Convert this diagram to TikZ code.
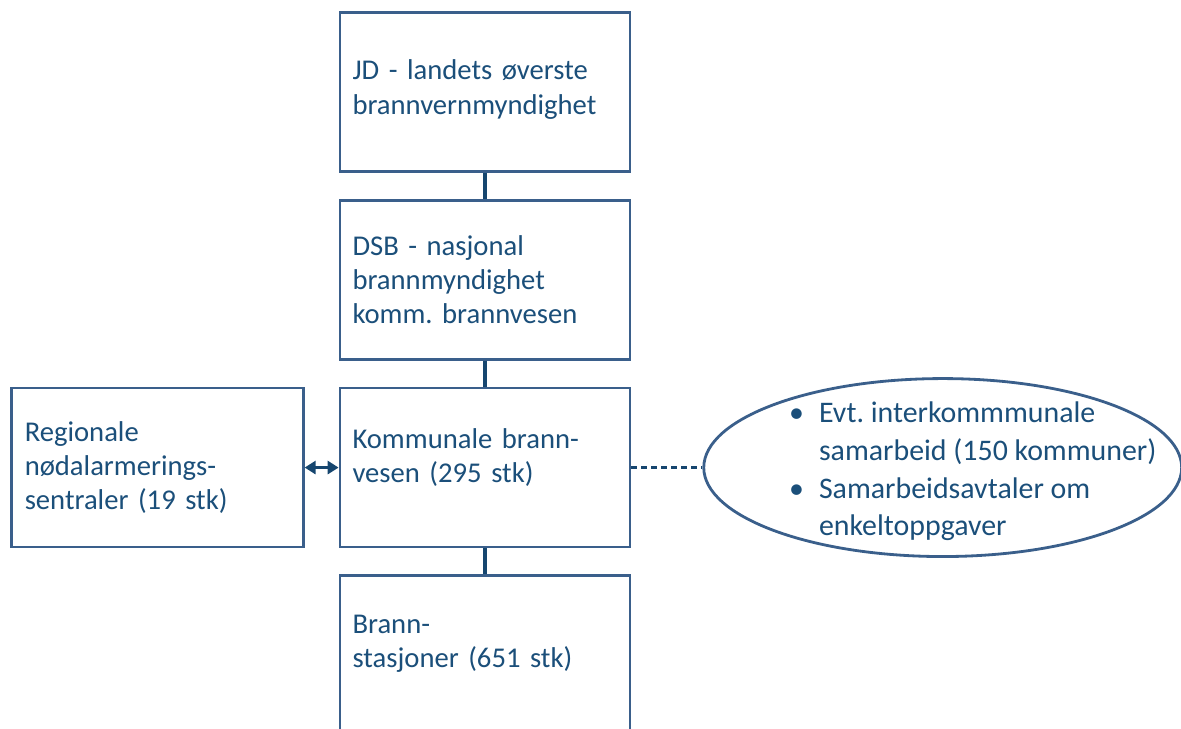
\documentclass[tikz,border=0pt]{standalone}
\usepackage{fontspec}
\setmainfont{Carlito}
\frenchspacing
\usetikzlibrary{arrows.meta,positioning,shapes.geometric}
\definecolor{OrgLine}{HTML}{3A5F8B}
\definecolor{OrgLink}{HTML}{16466F}
\definecolor{OrgText}{HTML}{1B4F7A}
\tikzset{
  orgbox/.style={draw=OrgLine,line width=1.6pt,minimum width=5.8cm,minimum height=3.18cm,text width=5.3cm,align=left,inner xsep=0.24cm,font=\fontsize{16.3}{19.5}\selectfont,text=OrgText,fill=white},
  orgoval/.style={ellipse,draw=OrgLine,line width=1.6pt,minimum width=9.56cm,minimum height=3.56cm,inner sep=0pt},
  ovaltext/.style={align=left,font=\fontsize{17}{21.5}\selectfont,text=OrgText,inner sep=0pt},
  orglink/.style={line width=1.8pt,draw=OrgLink},
  twoway/.style={{Triangle[length=2.2mm,width=2.6mm]}-{Triangle[length=2.2mm,width=2.6mm]},line width=1.8pt,draw=OrgLink},
  looselink/.style={line width=1.3pt,draw=OrgLink,dash pattern=on 3.4pt off 2.3pt}
}
\begin{document}
\begin{tikzpicture}[x=0.02cm,y=-0.02cm,node distance=0.52cm and 0.68cm]
\useasboundingbox (0,0) rectangle (1181,728);
\clip (0,0) rectangle (1181,728);
\node[orgbox] (jd) at (485,92) {JD - landets øverste\\brannvernmyndighet\par\vspace*{0.1cm}};
\node[orgbox,below=of jd] (dsb) {DSB - nasjonal\\brannmyndighet\\komm. brannvesen};
\node[orgbox,below=of dsb] (komm) {Kommunale brann-\\vesen (295 stk)\par\vspace*{0.4cm}};
\node[orgbox,below=of komm] (brann) {Brann-\\stasjoner (651 stk)\par\vspace*{0.45cm}};
\node[orgbox,left=of komm,minimum width=5.84cm] (reg) {Regionale\\nødalarmerings-\\sentraler (19 stk)};
\node[orgoval,right=1.42cm of komm] (ring) {};
\node[ovaltext,xshift=0.6cm,yshift=-0.08cm] (ringtxt) at (ring.center) {%
\begin{tabular}{@{}p{0.6cm}@{}l@{}}
\textbullet & Evt. interkommmunale\\
 & samarbeid (150 kommuner)\\
\textbullet & Samarbeidsavtaler om\\
 & enkeltoppgaver
\end{tabular}};
\draw[orglink] (jd.south)--(dsb.north);
\draw[orglink] (dsb.south)--(komm.north);
\draw[orglink] (komm.south)--(brann.north);
\draw[twoway] (reg.east)--(komm.west);
\draw[looselink] (komm.east)--(ring.west);
\end{tikzpicture}
\end{document}
